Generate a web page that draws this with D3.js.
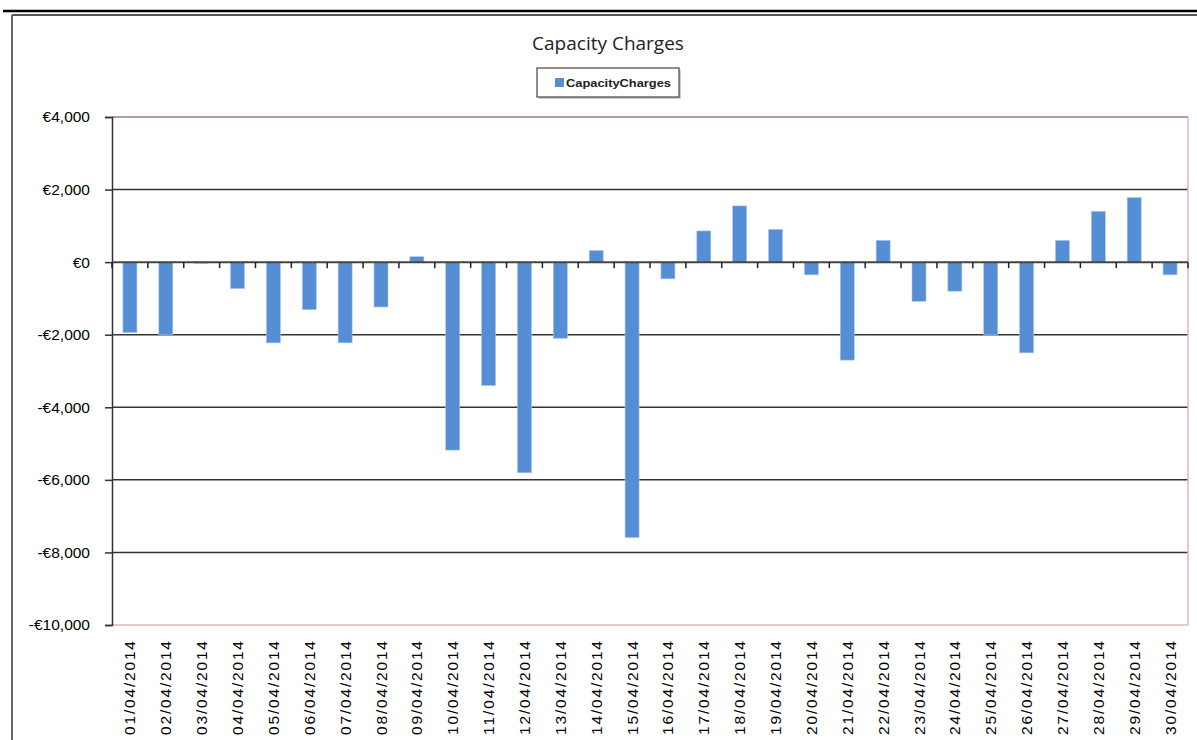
<!DOCTYPE html>
<html>
<head>
<meta charset="utf-8">
<script src="https://cdn.jsdelivr.net/npm/d3@7"></script>
<style>
  body { margin: 0; background: #fff; }
  svg { display: block; }
</style>
</head>
<body>
<svg id="chart" width="1197" height="740"></svg>
<script>
// data
var days = ['01/04/2014','02/04/2014','03/04/2014','04/04/2014','05/04/2014','06/04/2014',
    '07/04/2014','08/04/2014','09/04/2014','10/04/2014','11/04/2014','12/04/2014',
    '13/04/2014','14/04/2014','15/04/2014','16/04/2014','17/04/2014','18/04/2014',
    '19/04/2014','20/04/2014','21/04/2014','22/04/2014','23/04/2014','24/04/2014',
    '25/04/2014','26/04/2014','27/04/2014','28/04/2014','29/04/2014','30/04/2014'];
var charges = [-1940, -2000, -30, -730, -2225, -1310,
    -2225, -1236, 150, -5180, -3400, -5805,
    -2100, 320, -7590, -460, 860, 1550,
    900, -350, -2700, 600, -1080, -800,
    -2005, -2500, 600, 1400, 1780, -350];
var yTicks = [-10000, -8000, -6000, -4000, -2000, 0, 2000, 4000];
var seriesName = 'CapacityCharges';

var svg = d3.select("#chart");
var margin = {top: 117, left: 112, bottom: 625, right: 1188};

// page frame
svg.append("line").attr("x1", 3).attr("x2", 1197).attr("y1", 11).attr("y2", 11)
    .attr("stroke", "#000").attr("stroke-width", 2.5);
svg.append("line").attr("x1", 12).attr("x2", 1197).attr("y1", 15).attr("y2", 15)
    .attr("stroke", "#555").attr("stroke-width", 2);
svg.append("line").attr("x1", 12).attr("x2", 12).attr("y1", 15).attr("y2", 740)
    .attr("stroke", "#666").attr("stroke-width", 2);

var xb = d3.scaleBand().domain(days).range([margin.left, margin.right]);

var y = d3.scaleLinear()
    .domain([-10000, 4000])
    .range([margin.bottom, margin.top]);

// gridlines
svg.append("g")
    .selectAll("line")
    .data(yTicks.filter(d => d > -10000 && d < 4000 && d != 0))
    .enter().append("line")
    .attr("x1", margin.left).attr("x2", margin.right)
    .attr("y1", d => y(d)).attr("y2", d => y(d))
    .attr("stroke", "#333").attr("stroke-width", 1.5);

// plot border
svg.append("line").attr("x1", margin.left).attr("x2", margin.right)
    .attr("y1", y(4000)).attr("y2", y(4000))
    .attr("stroke", "#b79a9a").attr("stroke-width", 2);
svg.append("line").attr("x1", margin.right).attr("x2", margin.right)
    .attr("y1", y(4000)).attr("y2", y(-10000))
    .attr("stroke", "#e3b5b5").attr("stroke-width", 1.5);
svg.append("line").attr("x1", margin.left).attr("x2", margin.right)
    .attr("y1", y(-10000)).attr("y2", y(-10000))
    .attr("stroke", "#e8b4b4").attr("stroke-width", 1.5);

// bars
svg.append("g")
    .selectAll("rect")
    .data(charges)
    .enter().append("rect")
    .attr("x", (d, i) => xb(days[i]) + xb.bandwidth() / 2 - 7)
    .attr("width", 14)
    .attr("y", d => y(Math.max(0, d)))
    .attr("height", d => Math.abs(y(d) - y(0)))
    .attr("fill", "#558ed5")
    .attr("stroke", "#a9c6ee").attr("stroke-width", 0.6);

// y axis
var yAxis = svg.append("g")
    .attr("transform", `translate(${margin.left},0)`)
    .call(d3.axisLeft(y).tickValues(yTicks).tickSize(7).tickPadding(15)
        .tickFormat(d => (d < 0 ? '-' : '') + '€' + d3.format(',')(Math.abs(d))));
yAxis.select(".domain").attr("stroke", "#333").attr("stroke-width", 1.5);
yAxis.selectAll(".tick line").attr("stroke", "#333").attr("stroke-width", 1.5);
yAxis.selectAll("text").attr("font-family", "Liberation Sans, Arial, sans-serif")
    .attr("font-size", "15.5px").attr("fill", "#000");

// zero axis with ticks at category boundaries
var zero = svg.append("g");
zero.append("line").attr("x1", margin.left).attr("x2", margin.right)
    .attr("y1", y(0)).attr("y2", y(0))
    .attr("stroke", "#444").attr("stroke-width", 2);
zero.selectAll("line.tk")
    .data(days.concat(['end']))
    .enter().append("line").attr("class", "tk")
    .attr("x1", (d, i) => margin.left + i * xb.bandwidth())
    .attr("x2", (d, i) => margin.left + i * xb.bandwidth())
    .attr("y1", y(0)).attr("y2", y(0) + 6)
    .attr("stroke", "#222").attr("stroke-width", 1.5);

// x labels
svg.append("g")
    .selectAll("text")
    .data(days)
    .enter().append("text")
    .attr("transform", d => `translate(${xb(d) + xb.bandwidth() / 2 + 5.5},641) rotate(-90)`)
    .attr("text-anchor", "end")
    .attr("font-family", "Liberation Sans, Arial, sans-serif")
    .attr("font-size", "15.5px")
    .attr("textLength", 94).attr("lengthAdjust", "spacing")
    .text(d => d);

// title
svg.append("text")
    .attr("x", 608).attr("y", 50)
    .attr("text-anchor", "middle")
    .attr("font-family", "Open Sans, sans-serif")
    .attr("font-size", "19px")
    .attr("fill", "#222")
    .text("Capacity Charges");

// legend
var legend = svg.append("g");
legend.append("rect").attr("x", 539).attr("y", 70).attr("width", 142).attr("height", 29)
    .attr("fill", "#ccc");
legend.append("rect").attr("x", 537).attr("y", 68).attr("width", 142).attr("height", 29)
    .attr("fill", "#fff").attr("stroke", "#444").attr("stroke-width", 1.2);
legend.append("rect").attr("x", 555).attr("y", 78).attr("width", 9).attr("height", 9)
    .attr("fill", "#558ed5");
legend.append("text").attr("x", 566).attr("y", 87)
    .attr("font-family", "Liberation Sans, Arial, sans-serif")
    .attr("font-size", "10px").attr("font-weight", "bold").attr("fill", "#222")
    .attr("textLength", 105).attr("lengthAdjust", "spacingAndGlyphs")
    .text(seriesName);
</script>
</body>
</html>
